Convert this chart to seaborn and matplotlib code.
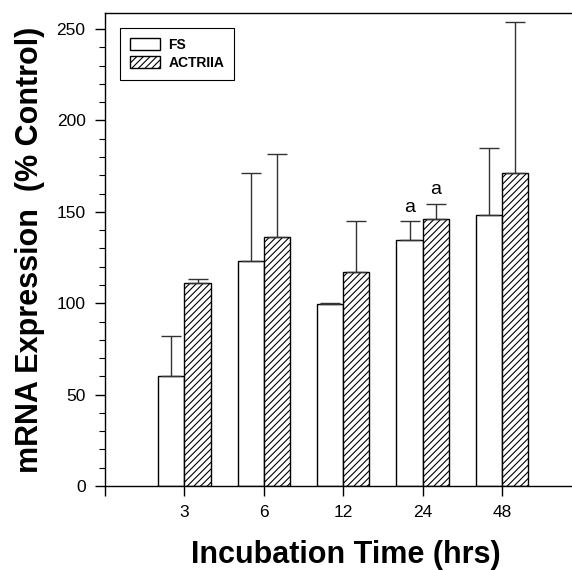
import numpy as np
import pandas as pd
import matplotlib
matplotlib.use('Agg')
import matplotlib.pyplot as plt
import seaborn as sns
from matplotlib.ticker import MultipleLocator

hours = ['3', '6', '12', '24', '48']
genes = ['FS', 'ACTRIIA']
fs_mean = [60, 123, 99.5, 134.5, 148.5]
fs_err = [22, 48, 0.5, 10.5, 36.5]
act_mean = [111, 136.5, 117, 146, 171]
act_err = [2, 45, 28, 8.5, 83]
# significance marks ('a') per bar
fs_marks = ['', '', '', 'a', '']
act_marks = ['', '', '', 'a', '']

df = pd.DataFrame({
    'time': hours * 2,
    'gene': ['FS'] * len(hours) + ['ACTRIIA'] * len(hours),
    'value': fs_mean + act_mean,
})

sns.set_style('ticks', {'text.color': 'black', 'axes.labelcolor': 'black',
                        'axes.edgecolor': 'black', 'xtick.color': 'black', 'ytick.color': 'black'})
plt.rcParams['font.family'] = ['Liberation Sans', 'DejaVu Sans']
plt.rcParams['hatch.linewidth'] = 0.8

fig = plt.figure(figsize=(5.72, 5.70), dpi=100)
ax = fig.add_axes([105 / 572, 84 / 570, 467 / 572, 473 / 570])

sns.barplot(data=df, x='time', y='value', hue='gene', order=hours, hue_order=genes,
            palette=['white', 'white'], width=0.66, errorbar=None, edgecolor='black',
            linewidth=1.0, legend=False, ax=ax)

for bar in ax.containers[1]:
    bar.set_hatch('/////')

for cont, err, marks in [(ax.containers[0], fs_err, fs_marks), (ax.containers[1], act_err, act_marks)]:
    xs = [b.get_x() + b.get_width() / 2 for b in cont]
    hs = [b.get_height() for b in cont]
    ax.errorbar(xs, hs, yerr=[np.zeros(len(err)), err], fmt='none', ecolor='#333333',
                elinewidth=1.0, capsize=7, capthick=1.0, zorder=1)
    for x, h, e, m in zip(xs, hs, err, marks):
        if m:
            ax.text(x, h + e + 3, m, ha='center', va='bottom', fontsize=14, color='black')

ax.set_xticks(range(-1, len(hours)), [''] + hours)
ax.set_xlim(-1, 4.88)
ax.set_ylim(0, 258.8)
ax.yaxis.set_major_locator(MultipleLocator(50))
ax.yaxis.set_minor_locator(MultipleLocator(10))
ax.tick_params(axis='y', which='major', length=7, width=1, pad=7, labelsize=12.5, direction='out')
ax.tick_params(axis='y', which='minor', length=4.3, width=0.8, direction='out')
ax.tick_params(axis='x', length=7, width=1, pad=7, labelsize=12.5, direction='out')

ax.spines['right'].set_visible(False)
for s in ['left', 'top', 'bottom']:
    ax.spines[s].set_linewidth(1.0)

ax.set_xlabel('Incubation Time (hrs)', fontsize=22, fontweight='bold', labelpad=14)
ax.xaxis.label.set_x(0.515)
ax.set_ylabel('mRNA Expression  (% Control)', fontsize=22, fontweight='bold', labelpad=8)

leg = ax.legend(handles=[ax.containers[0][0], ax.containers[1][0]], labels=genes,
                loc='upper left', bbox_to_anchor=(0.032, 0.968), borderaxespad=0,
                fancybox=False, framealpha=1, edgecolor='black', handlelength=2.2,
                handleheight=1.0, handletextpad=0.6, labelspacing=0.3, borderpad=0.7,
                prop={'weight': 'bold', 'size': 10})
leg.get_frame().set_linewidth(0.8)

fig.savefig('out.png', dpi=100)
